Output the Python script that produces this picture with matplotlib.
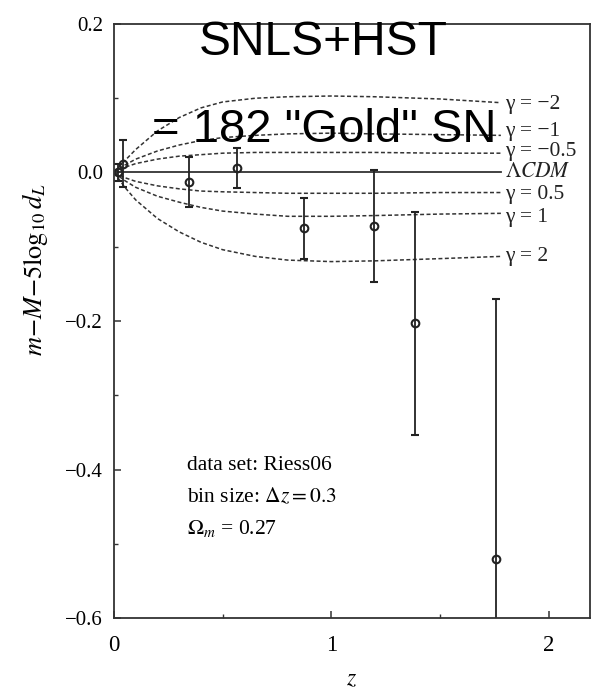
import numpy as np
import matplotlib.pyplot as plt

plt.rcParams['font.family'] = ['Liberation Serif', 'DejaVu Serif']
plt.rcParams['mathtext.fontset'] = 'stix'

# binned data points (z, m-M-5log10 dL, error)
z_bins = [0.02, 0.043, 0.346, 0.564, 0.874, 1.195, 1.384, 1.756]
mu_bins = [0.0, 0.012, -0.013, 0.006, -0.075, -0.072, -0.203, -0.521]
err_bins = [0.012, 0.032, 0.034, 0.027, 0.041, 0.075, 0.150, 0.351]

# model curves
z_curve = [0.0, 0.05, 0.1, 0.2, 0.3, 0.4, 0.5, 0.65, 0.8, 1.0, 1.2, 1.5, 1.78]
curves = {
    'γ = −2':   [0.0, 0.016, 0.031, 0.056, 0.074, 0.087, 0.095, 0.100, 0.102, 0.103, 0.102, 0.099, 0.094],
    'γ = −1':   [0.0, 0.010, 0.018, 0.029, 0.037, 0.043, 0.047, 0.050, 0.052, 0.053, 0.052, 0.051, 0.050],
    'γ = −0.5': [0.0, 0.007, 0.012, 0.018, 0.022, 0.024, 0.026, 0.027, 0.027, 0.027, 0.027, 0.026, 0.026],
    'γ = 0.5':  [0.0, -0.007, -0.012, -0.018, -0.022, -0.025, -0.026, -0.027, -0.028, -0.028, -0.028, -0.027, -0.027],
    'γ = 1':    [0.0, -0.011, -0.020, -0.032, -0.040, -0.047, -0.052, -0.056, -0.059, -0.059, -0.058, -0.056, -0.055],
    'γ = 2':    [0.0, -0.020, -0.037, -0.062, -0.080, -0.094, -0.104, -0.113, -0.118, -0.120, -0.119, -0.116, -0.113],
}
label_y = {'γ = −2': 0.091, 'γ = −1': 0.055, 'γ = −0.5': 0.028,
           'γ = 0.5': -0.030, 'γ = 1': -0.061, 'γ = 2': -0.113}

fig = plt.figure(figsize=(5.92, 6.89), dpi=100)
ax = fig.add_axes([0.1926, 0.1030, 0.8040, 0.8622])

col = '#333333'
for name, vals in curves.items():
    ax.plot(z_curve, vals, ls=(0, (2.6, 1.6)), color=col, lw=1.1)
    ax.text(1.80, label_y[name], name, fontsize=15.5, va='center', ha='left', color='#222222')

ax.plot([0, 1.78], [0, 0], color=col, lw=1.3)
ax.text(1.80, 0.0, r'$\Lambda CDM$', fontsize=15.5, va='center', ha='left', color='#222222')

ax.errorbar(z_bins, mu_bins, yerr=err_bins, fmt='o', mfc='none', mec='#222222',
            ms=5.5, mew=1.5, ecolor='#222222', elinewidth=1.3, capsize=3, capthick=1.3)

ax.text(0.336, -0.394, 'data set: Riess06', fontsize=15.5, va='center')
ax.text(0.336, -0.437, r'bin size: $\Delta z = 0.3$', fontsize=15.5, va='center')
ax.text(0.336, -0.479, r'$\Omega_m$ = 0.27', fontsize=15.5, va='center')

ax.set_xlim(0, 2.19)
ax.set_ylim(-0.6, 0.2)
ax.set_xticks([0, 1, 2])
ax.set_xticks([0.5, 1.5], minor=True)
ax.set_yticks([-0.6, -0.4, -0.2, 0.0, 0.2])
ax.set_yticklabels(['−0.6', '−0.4', '−0.2', '0.0', '0.2'])
ax.set_yticks([-0.5, -0.3, -0.1, 0.1], minor=True)
ax.tick_params(which='both', direction='in', top=False, right=False, color='#333333')
ax.tick_params(which='major', length=5, width=1.1)
ax.tick_params(which='minor', length=3, width=1.0)
ax.tick_params(axis='x', labelsize=16.5, pad=12)
ax.tick_params(axis='y', labelsize=15, pad=8)
for s in ax.spines.values():
    s.set_color('#333333')
    s.set_linewidth(1.3)

ax.set_xlabel(r'$z$', fontsize=17, va='center')
ax.xaxis.set_label_coords(0.5, -0.104)
ax.set_ylabel(r'$m{-}M{-}5\log_{10}d_L$', fontsize=19, va='center')
ax.yaxis.set_label_coords(-0.165, 0.586)

fig.text(0.5456, 0.9202, 'SNLS+HST', fontsize=34.5, family='Liberation Sans',
         ha='center', va='baseline')
fig.text(0.547, 0.7939, '= 182 "Gold" SN', fontsize=34, family='Liberation Sans',
         ha='center', va='baseline')

fig.savefig('out.png', dpi=100)
